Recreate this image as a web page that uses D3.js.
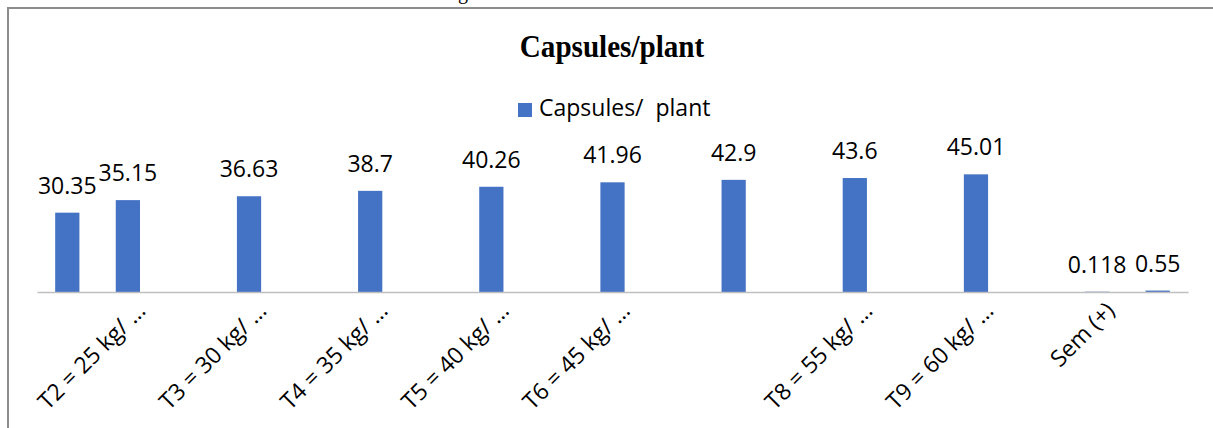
<!DOCTYPE html>
<html lang="en">
    <head>
        <meta charset="utf-8">
        <title>capsules_plant</title>
        <script src="https://cdn.jsdelivr.net/npm/d3@7"></script>
        <style>
            body { margin: 0; background: #fff; }
            text { font-family: "Open Sans", sans-serif; fill: #000; }
        </style>
    </head>

    <body>
        <script type="text/javascript">
        var w = 1213;
        var h = 428;

        // one slot per category row, empty rows have no value
        var categories = ["T1 = Control", "T2 = 25 kg/ \u2026", "", "T3 = 30 kg/ \u2026", "", "T4 = 35 kg/ \u2026", "",
                          "T5 = 40 kg/ \u2026", "", "T6 = 45 kg/ \u2026", "", "", "", "T8 = 55 kg/ \u2026", "",
                          "T9 = 60 kg/ \u2026", "", "Sem (+)", "CD (0.05)"];
        var values = [30.35, 35.15, null, 36.63, null, 38.7, null, 40.26, null, 41.96, null,
                      42.9, null, 43.6, null, 45.01, null, 0.118, 0.55];
        // excel only shows every second label
        var shownTicks = [1, 3, 5, 7, 9, 11, 13, 15, 17];
        var seriesName = "Capsules/  plant";
        var title = "Capsules/plant";

        var svg = d3.select("body")
                    .append("svg")
                    .attr("width", w)
                    .attr("height", h);

        // frame of the chart box (cropped)
        svg.append("line").attr("x1", 7).attr("x2", w).attr("y1", 8).attr("y2", 8)
            .attr("stroke", "#8c8c8c").attr("stroke-width", 2);
        svg.append("line").attr("x1", 8).attr("x2", 8).attr("y1", 7).attr("y2", h)
            .attr("stroke", "#8c8c8c").attr("stroke-width", 2);

        // bit of caption text cut off above the box
        svg.append("text").attr("x", 458).attr("y", -1)
            .style("font-family", "'Liberation Serif', serif").style("font-size", "20px")
            .text("g");

        var xScale = d3.scaleBand()
                    .domain(d3.range(categories.length))
                    .range([37, 1188])
                    .paddingInner(0.6)
                    .paddingOuter(0.3);

        var yScale = d3.scaleLinear()
                    .domain([0, 50])
                    .range([292, 161.3]);

        // title, narrow and tall like the original
        svg.append("text")
            .attr("transform", "translate(612,57) scale(0.91,1)")
            .attr("text-anchor", "middle")
            .style("font-family", "'Liberation Serif', serif")
            .style("font-weight", "bold")
            .style("font-size", "32px")
            .text(title);

        // legend
        svg.append("rect").attr("x", 518).attr("y", 103).attr("width", 14).attr("height", 14)
            .attr("fill", "#4472c4");
        svg.append("text").attr("x", 539).attr("y", 116)
            .style("font-size", "23px")
            .style("white-space", "pre")
            .text(seriesName);

        var data = values.map(function(v, i){ return {i: i, v: v}; })
                         .filter(function(d){ return d.v !== null; });

        svg.selectAll("rect.bar")
            .data(data)
            .enter()
            .append("rect")
            .attr("class", "bar")
            .attr("x", function(d){ return xScale(d.i); })
            .attr("width", xScale.bandwidth())
            .attr("y", function(d){ return yScale(d.v); })
            .attr("height", function(d){ return yScale(0) - yScale(d.v); })
            .attr("fill", "#4472c4");

        // data labels
        svg.selectAll("text.lbl")
            .data(data)
            .enter()
            .append("text")
            .attr("class", "lbl")
            .attr("x", function(d){ return xScale(d.i) + xScale.bandwidth() / 2; })
            .attr("y", function(d){ return yScale(d.v) - 19; })
            .attr("text-anchor", "middle")
            .style("font-size", "23px")
            .text(function(d){ return String(d.v); });

        var xAxis = d3.axisBottom(xScale)
                    .tickValues(shownTicks)
                    .tickSize(0)
                    .tickSizeOuter(0)
                    .tickFormat(function(i){ return categories[i]; });

        var gx = svg.append("g")
            .attr("transform", "translate(0," + yScale(0) + ")")
            .call(xAxis);

        gx.select(".domain").attr("stroke", "#bfbfbf").attr("stroke-width", 1.5);
        gx.selectAll("text")
            .attr("x", 0).attr("y", 0).attr("dy", 0)
            .attr("text-anchor", "end")
            .attr("transform", "translate(19,20) rotate(-45)")
            .style("font-family", "'Open Sans', sans-serif")
            .style("font-size", "23px")
            .attr("fill", "#000");
        </script>
    </body>
</html>
